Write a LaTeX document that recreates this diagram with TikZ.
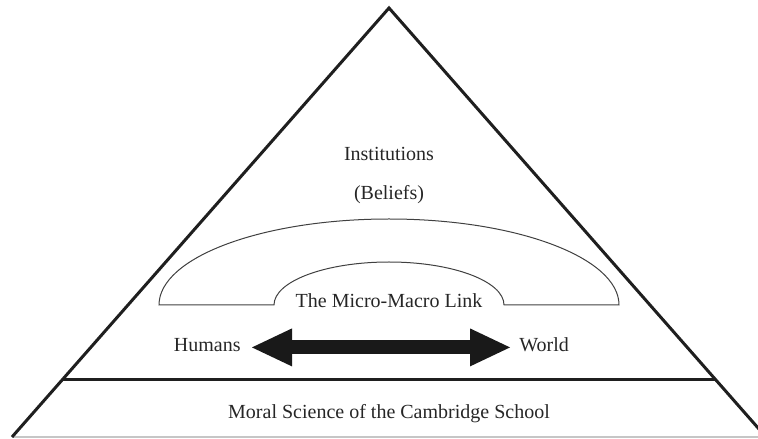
\documentclass[tikz,border=0pt]{standalone}
\usepackage{fontspec}
\setmainfont{Liberation Serif}
\usetikzlibrary{arrows.meta, calc}
\tikzset{
    side/.style={line width=1.5pt, draw=black!88, line join=miter},
    arch/.style={line width=0.5pt, draw=black!75},
    label/.style={font=\fontsize{10}{12}\selectfont, text=black!85, inner sep=0pt},
    bigarrow/.style={{Triangle[length=20pt, width=19pt, line width=0pt]}-{Triangle[length=20pt, width=19pt, line width=0pt]}, line width=7pt, draw=black!90, fill=black!90},
}

\begin{document}
\begin{tikzpicture}[x=0.5pt, y=0.5pt]
    \useasboundingbox (0,0) rectangle (758,438);
    \clip (0,0) rectangle (758,438);

    % Pyramid outline
    \coordinate (apex) at (389,430);
    \coordinate (left) at (12,1);
    \coordinate (right) at (766,1);
    \draw[gray!45, line width=0.6pt] (left) -- (right);
    \draw[side] (left) -- (apex) -- (right);

    % Base layer
    \draw[side] ($(apex)!0.866!(left)$) -- ($(apex)!0.866!(right)$);
    \node[label, anchor=base] (moral) at (389,20) {Moral Science of the Cambridge School};

    % Upper part
    \node[label, anchor=base] (inst) at (389,277) {Institutions};
    \node[label, anchor=base] (beliefs) at (389,238) {(Beliefs)};

    % Arch
    \draw[arch] (159,133) arc[start angle=180, end angle=0, x radius=230, y radius=86]
        -- (504,133) arc[start angle=0, end angle=180, x radius=115, y radius=43] -- cycle;
    \node[label, anchor=base] (link) at (389,130) {The Micro-Macro Link};

    % Humans <-> World
    \node[label, anchor=base east] (humans) at (241,86) {Humans};
    \node[label, anchor=base west] (world) at (519,86) {World};
    \draw[bigarrow, shorten <=5.5pt, shorten >=4.5pt] (humans.mid east) -- (world.mid west);
\end{tikzpicture}
\end{document}
